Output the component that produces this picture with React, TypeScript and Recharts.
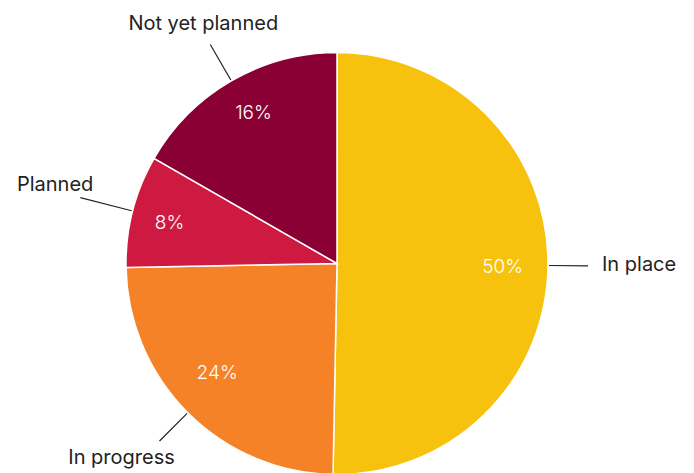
import React from "react";
import { PieChart, Pie, Cell } from "recharts";

const categories = ["In place", "In progress", "Planned", "Not yet planned"];
const shares = [50.3, 24.4, 8.6, 16.7];
const shareLabels = ["50%", "24%", "8%", "16%"];
const colors = ["#F7C20E", "#F58226", "#CE1941", "#8B0034"];

const data = categories.map((name, i) => ({ name, value: shares[i], label: shareLabels[i] }));

// label layout relative to the end of each leader line / the inner anchor
const placement: Record<
  string,
  { len: number; anchor: "start" | "middle" | "end"; dx: number; dy: number; idx: number; idy: number }
> = {
  "In place": { len: 40, anchor: "start", dx: 14, dy: -2, idx: -1, idy: 1 },
  "In progress": { len: 40, anchor: "middle", dx: -38, dy: 16, idx: -2, idy: -9 },
  Planned: { len: 54, anchor: "end", dx: 13, dy: -14, idx: -6, idy: 0 },
  "Not yet planned": { len: 42, anchor: "middle", dx: -7, dy: -22, idx: 0, idy: -7 },
};

const RAD = Math.PI / 180;
const FONT = "Inter, Roboto, 'Noto Sans', sans-serif";

const renderLabel = (props: any) => {
  const { cx, cy, midAngle, outerRadius, index } = props;
  const cos = Math.cos(-midAngle * RAD);
  const sin = Math.sin(-midAngle * RAD);
  const d = data[index];
  const p = placement[d.name];
  const rin = outerRadius * 0.79;
  const ix = cx + rin * cos + p.idx;
  const iy = cy + rin * sin + p.idy;
  const sx = cx + (outerRadius + 1) * cos;
  const sy = cy + (outerRadius + 1) * sin;
  const ex = cx + (outerRadius + p.len) * cos;
  const ey = cy + (outerRadius + p.len) * sin;
  return (
    <g key={`lbl-${index}`}>
      <text
        x={ix}
        y={iy}
        fill="#ffffff"
        textAnchor="middle"
        dominantBaseline="central"
        fontSize={19}
        fontFamily={FONT}
        fontWeight={300}
      >
        {d.label}
      </text>
      <line x1={sx} y1={sy} x2={ex} y2={ey} stroke="#222" strokeWidth={1.2} />
      <text
        x={ex + p.dx}
        y={ey + p.dy}
        fill="#222"
        textAnchor={p.anchor}
        dominantBaseline="central"
        fontSize={20}
        fontFamily={FONT}
      >
        {d.name}
      </text>
    </g>
  );
};

export default function App() {
  return (
    <div style={{ position: "absolute", left: 0, top: 0, width: 694, height: 473, background: "#fff" }}>
      <PieChart width={694} height={473} margin={{ top: 0, right: 0, bottom: 0, left: 0 }}>
        <Pie
          data={data}
          dataKey="value"
          nameKey="name"
          cx={337}
          cy={263.5}
          outerRadius={211}
          startAngle={90}
          endAngle={-270}
          stroke="#ffffff"
          strokeWidth={1.5}
          label={renderLabel}
          labelLine={false}
          isAnimationActive={false}
        >
          {data.map((d, i) => (
            <Cell key={d.name} fill={colors[i]} />
          ))}
        </Pie>
      </PieChart>
    </div>
  );
}
